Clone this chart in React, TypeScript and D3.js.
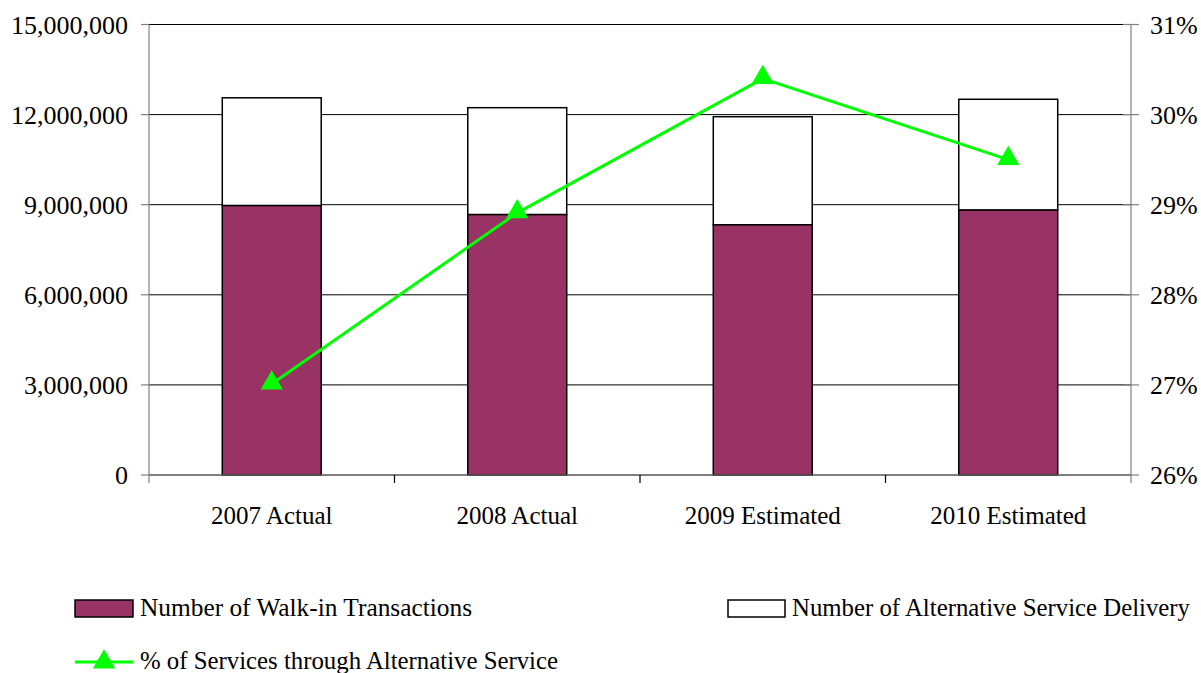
import React from "react";
import * as d3 from "d3";

const categories = ["2007 Actual", "2008 Actual", "2009 Estimated", "2010 Estimated"];
const walkIn = [8970000, 8670000, 8330000, 8820000];
const altService = [3590000, 3560000, 3600000, 3690000];
const pctAlt = [27.01, 28.91, 30.4, 29.5];
const leftTicks = [0, 3000000, 6000000, 9000000, 12000000, 15000000];
const rightTicks = [26, 27, 28, 29, 30, 31];

const W = 1201;
const H = 673;
const plot = { left: 149, right: 1131, top: 24.5, bottom: 475 };
const FONT = "Liberation Serif, DejaVu Serif, serif";
const PLUM = "#993366";
const GREEN = "#00FF00";

export default function App() {
  const x = d3.scaleBand<string>().domain(categories).range([plot.left, plot.right]).paddingInner(0).paddingOuter(0);
  const yL = d3.scaleLinear().domain([0, 15000000]).range([plot.bottom, plot.top]);
  const yR = d3.scaleLinear().domain([26, 31]).range([plot.bottom, plot.top]);
  const bw = x.bandwidth() * 0.403;
  const fmt = d3.format(",");
  const line = d3
    .line<number>()
    .x((_, i) => (x(categories[i]) as number) + x.bandwidth() / 2)
    .y((d) => yR(d));
  const tri = d3.symbol().type(d3.symbolTriangle).size(215);
  const ts = { fontFamily: FONT };

  return (
    <svg width={W} height={H} style={{ position: "absolute", left: 0, top: 0, background: "#fff" }}>
      <rect x={0} y={0} width={W} height={H} fill="#fff" />
      {leftTicks.map((t) => (
        <line key={"g" + t} x1={plot.left} x2={plot.right} y1={yL(t)} y2={yL(t)} stroke="#000" strokeWidth={1} />
      ))}
      {categories.map((c, i) => {
        const cx = (x(c) as number) + x.bandwidth() / 2;
        const total = walkIn[i] + altService[i];
        return (
          <g key={c}>
            <rect x={cx - bw / 2} y={yL(total)} width={bw} height={yL(walkIn[i]) - yL(total)} fill="#fff" stroke="#000" strokeWidth={1.5} />
            <rect x={cx - bw / 2} y={yL(walkIn[i])} width={bw} height={yL(0) - yL(walkIn[i])} fill={PLUM} stroke="#000" strokeWidth={1.5} />
          </g>
        );
      })}
      <line x1={plot.left} x2={plot.left} y1={plot.top} y2={plot.bottom + 8} stroke="#808080" strokeWidth={1.2} />
      <line x1={plot.right} x2={plot.right} y1={plot.top} y2={plot.bottom + 8} stroke="#808080" strokeWidth={1.2} />
      <line x1={plot.left} x2={plot.right} y1={plot.bottom} y2={plot.bottom} stroke="#808080" strokeWidth={1.2} />
      {leftTicks.map((t) => (
        <g key={"l" + t}>
          <line x1={plot.left - 8} x2={plot.left} y1={yL(t)} y2={yL(t)} stroke="#808080" strokeWidth={1.2} />
          <text x={plot.left - 21} y={yL(t)} dy="0.36em" textAnchor="end" fontSize={26} fill="#000" style={ts}>
            {fmt(t)}
          </text>
        </g>
      ))}
      {rightTicks.map((t) => (
        <g key={"r" + t}>
          <line x1={plot.right - 8} x2={plot.right + 8} y1={yR(t)} y2={yR(t)} stroke="#808080" strokeWidth={1.2} />
          <text x={plot.right + 19} y={yR(t)} dy="0.36em" textAnchor="start" fontSize={26} fill="#000" style={ts}>
            {t + "%"}
          </text>
        </g>
      ))}
      {categories.map((c, i) => {
        const xl = x(c) as number;
        return (
          <g key={"c" + c}>
            {i > 0 && <line x1={xl} x2={xl} y1={plot.bottom} y2={plot.bottom + 8} stroke="#000" strokeWidth={1.2} />}
            <text x={xl + x.bandwidth() / 2} y={524} textAnchor="middle" fontSize={25} fill="#000" style={ts}>
              {c}
            </text>
          </g>
        );
      })}
      <path d={line(pctAlt) as string} fill="none" stroke={GREEN} strokeWidth={3} />
      {pctAlt.map((p, i) => (
        <path key={"m" + i} d={tri() as string} transform={`translate(${(x(categories[i]) as number) + x.bandwidth() / 2},${yR(p) - 1})`} fill={GREEN} />
      ))}
      <rect x={75} y={600} width={58} height={17} fill={PLUM} stroke="#000" strokeWidth={1.5} />
      <text x={140} y={616} fontSize={25} fill="#000" style={ts} textLength={332} lengthAdjust="spacingAndGlyphs">
        Number of Walk-in Transactions
      </text>
      <rect x={728} y={600} width={57} height={17} fill="#fff" stroke="#000" strokeWidth={1.5} />
      <text x={792} y={616} fontSize={25} fill="#000" style={ts} textLength={398} lengthAdjust="spacingAndGlyphs">
        Number of Alternative Service Delivery
      </text>
      <line x1={75} x2={133} y1={662} y2={662} stroke={GREEN} strokeWidth={3} />
      <path d={tri() as string} transform="translate(104,662)" fill={GREEN} />
      <text x={140} y={669} fontSize={25} fill="#000" style={ts} textLength={418} lengthAdjust="spacingAndGlyphs">
        % of Services through Alternative Service
      </text>
    </svg>
  );
}
